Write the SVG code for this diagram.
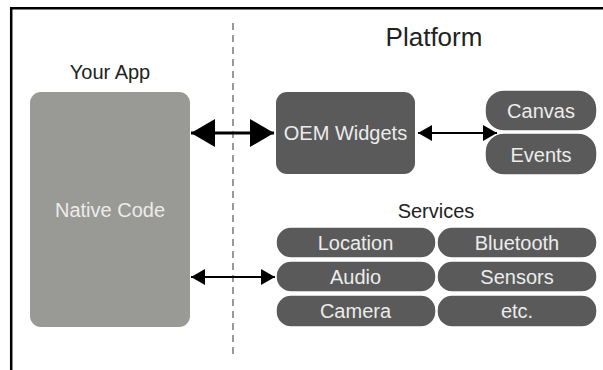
<svg xmlns="http://www.w3.org/2000/svg" width="603" height="370" viewBox="0 0 603 370">
<defs>
<style>
.lbl{font-family:"Liberation Sans",Arial,sans-serif;fill:#222;text-anchor:middle}
.in{font-family:"Liberation Sans",Arial,sans-serif;fill:#ececec;text-anchor:middle;font-size:20px}
.dark{fill:#5a5a5a;stroke:#fff;stroke-width:1.5}
.conn{stroke:#000;fill:none}
</style>
<marker id="bigHead" markerUnits="userSpaceOnUse" markerWidth="26" markerHeight="30" refX="24" refY="14" orient="auto-start-reverse" viewBox="0 0 26 30">
<path d="M0,0 L24,14 L0,28 Z" fill="#000"/>
</marker>
<marker id="smallHead" markerUnits="userSpaceOnUse" markerWidth="16" markerHeight="18" refX="14" refY="8" orient="auto-start-reverse" viewBox="0 0 16 18">
<path d="M0,0 L14,8 L0,16 Z" fill="#000"/>
</marker>
</defs>
<rect width="603" height="370" fill="#fff"/>
<path d="M11.2,370 V8.2 H603" fill="none" stroke="#000" stroke-width="2.5"/>
<line x1="233" y1="23" x2="233" y2="357" stroke="#555" stroke-width="1.2" stroke-dasharray="7 5"/>
<text class="lbl" x="110" y="79" font-size="20">Your App</text>
<text class="lbl" x="434" y="46" font-size="26">Platform</text>
<text class="lbl" x="436" y="218" font-size="20">Services</text>
<g id="native-code">
<rect x="30" y="92" width="160" height="235" rx="11" fill="#999995"/>
<text class="in" x="110" y="217" fill="#e6e6e4">Native Code</text>
</g>
<g id="oem-widgets">
<rect x="276" y="92" width="139" height="82" rx="11" fill="#5a5a5a"/>
<text class="in" x="345.5" y="140">OEM Widgets</text>
</g>
<g id="canvas">
<rect class="dark" x="485" y="90" width="112" height="41" rx="19"/>
<text class="in" x="541" y="118">Canvas</text>
</g>
<g id="events">
<rect class="dark" x="485" y="133" width="112" height="42" rx="19"/>
<text class="in" x="541" y="162">Events</text>
</g>
<g id="location">
<rect class="dark" x="276" y="227" width="160" height="31" rx="15"/>
<text class="in" x="355.5" y="250">Location</text>
</g>
<g id="bluetooth">
<rect class="dark" x="437" y="227" width="160" height="31" rx="15"/>
<text class="in" x="517" y="250">Bluetooth</text>
</g>
<g id="audio">
<rect class="dark" x="276" y="261" width="160" height="31" rx="15"/>
<text class="in" x="355.5" y="284">Audio</text>
</g>
<g id="sensors">
<rect class="dark" x="437" y="261" width="160" height="31" rx="15"/>
<text class="in" x="517" y="284">Sensors</text>
</g>
<g id="camera">
<rect class="dark" x="276" y="295" width="160" height="32" rx="15"/>
<text class="in" x="355.5" y="318">Camera</text>
</g>
<g id="etc">
<rect class="dark" x="437" y="295" width="160" height="32" rx="15"/>
<text class="in" x="517" y="318">etc.</text>
</g>
<g id="connectors">
<line class="conn" x1="191" y1="133" x2="274" y2="133" stroke-width="3" marker-start="url(#bigHead)" marker-end="url(#bigHead)"/>
<line class="conn" x1="418" y1="133" x2="497" y2="133" stroke-width="2" marker-start="url(#smallHead)" marker-end="url(#smallHead)"/>
<line class="conn" x1="191" y1="277" x2="275" y2="277" stroke-width="2" marker-start="url(#smallHead)" marker-end="url(#smallHead)"/>
</g>
</svg>
